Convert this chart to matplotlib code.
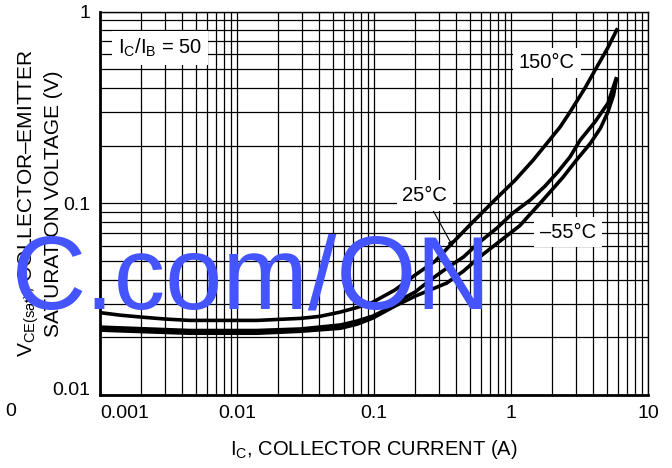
import matplotlib
matplotlib.use("Agg")
import matplotlib.pyplot as plt
import matplotlib.ticker as mticker
import matplotlib.transforms as mtransforms

FONT = "Liberation Sans"
plt.rcParams["font.family"] = [FONT, "DejaVu Sans"]
plt.rcParams["mathtext.fontset"] = "custom"
plt.rcParams["mathtext.rm"] = FONT
plt.rcParams["mathtext.it"] = FONT
plt.rcParams["mathtext.default"] = "regular"

# Collector current (A) and VCE(sat) (V)
ic_150 = [0.001, 0.0014, 0.002, 0.003, 0.0045, 0.014, 0.029, 0.040, 0.057, 0.075, 0.098,
          0.142, 0.2, 0.28, 0.36, 0.5, 0.76, 1.07, 1.45, 1.82, 2.28, 2.7, 3.47, 4.2, 5.1, 6.0]
vce_150 = [0.0269, 0.0261, 0.0255, 0.0249, 0.0245, 0.0245, 0.0251, 0.0257, 0.0271, 0.0286, 0.0305,
           0.0353, 0.0423, 0.050, 0.0605, 0.077, 0.104, 0.132, 0.168, 0.205, 0.250, 0.300, 0.400, 0.51, 0.65, 0.82]

ic_25 = [0.001, 0.0045, 0.014, 0.029, 0.057, 0.075, 0.098, 0.125, 0.155, 0.2, 0.256, 0.34,
         0.45, 0.59, 0.79, 1.03, 1.38, 1.77, 2.2, 2.7, 3.2, 4.1, 5.1, 5.9]
vce_25 = [0.0226, 0.0217, 0.0217, 0.0221, 0.0232, 0.0243, 0.0258, 0.0281, 0.0313, 0.0345, 0.0397, 0.0459,
          0.0525, 0.0628, 0.0743, 0.0889, 0.104, 0.123, 0.146, 0.175, 0.214, 0.266, 0.333, 0.456]

ic_m55 = [0.001, 0.0045, 0.014, 0.029, 0.057, 0.075, 0.098, 0.142, 0.2, 0.256, 0.34, 0.45,
          0.59, 0.83, 1.16, 1.71, 2.4, 3.0, 3.8, 4.5, 5.1, 5.6, 5.9]
vce_m55 = [0.0218, 0.021, 0.021, 0.0215, 0.0223, 0.0234, 0.0252, 0.0291, 0.0328, 0.0353, 0.0384, 0.0443,
           0.0525, 0.0635, 0.0765, 0.104, 0.137, 0.168, 0.206, 0.247, 0.300, 0.367, 0.451]

x_ticks = [0.001, 0.01, 0.1, 1, 10]
x_labels = ["0.001", "0.01", "0.1", "1", "10"]
y_ticks = [0.01, 0.1, 1]
y_labels = ["0.01", "0.1", "1"]

fig = plt.figure(figsize=(6.72, 4.68), dpi=100)
ax = fig.add_axes([0.1488, 0.156, 0.8155, 0.819])

for ic, vce in [(ic_150, vce_150), (ic_25, vce_25), (ic_m55, vce_m55)]:
    ax.plot(ic, vce, color="black", lw=2.6, solid_capstyle="butt",
            solid_joinstyle="round", zorder=3)

ax.set_xscale("log")
ax.set_yscale("log")
ax.set_xlim(0.001, 10)
ax.set_ylim(0.01, 1)

ax.set_xticks(x_ticks)
ax.set_xticklabels(x_labels)
ax.set_yticks(y_ticks)
ax.set_yticklabels(y_labels)
ax.xaxis.set_minor_formatter(mticker.NullFormatter())
ax.yaxis.set_minor_formatter(mticker.NullFormatter())
ax.tick_params(which="both", length=0, labelsize=14, colors="black")
ax.tick_params(axis="x", pad=7)
ax.tick_params(axis="y", pad=7)

# first x label sits to the right of its gridline in the original
shift = mtransforms.ScaledTranslation(25 / 100, 0, fig.dpi_scale_trans)
first = ax.get_xticklabels()[0]
first.set_transform(first.get_transform() + shift)
lift = mtransforms.ScaledTranslation(0, 6 / 100, fig.dpi_scale_trans)
bottom = ax.get_yticklabels()[0]
bottom.set_transform(bottom.get_transform() + lift)

ax.grid(True, which="both", color="black", lw=0.9, zorder=0)
ax.set_axisbelow(True)
for side in ["left", "bottom"]:
    ax.spines[side].set_linewidth(2.0)
for side in ["top", "right"]:
    ax.spines[side].set_linewidth(1.0)

ax.set_xlabel("I$_C$, COLLECTOR CURRENT (A)", fontsize=14.5, labelpad=12)
ax.set_ylabel("V$_{CE(sat)}$, COLLECTOR\u2013EMITTER\nSATURATION VOLTAGE (V)",
              fontsize=15, linespacing=1.2)
ax.yaxis.set_label_coords(-0.068, 0.5)

box = dict(facecolor="white", edgecolor="none", pad=4)
ax.text(0.00274, 0.646, "I$_C$/I$_B$ = 50", fontsize=14.5, ha="center", va="center", bbox=box, zorder=4)
ax.text(1.83, 0.54, "150\u00b0C", fontsize=14.5, ha="center", va="center", bbox=box, zorder=4)
ax.text(2.61, 0.0708, "\u201355\u00b0C", fontsize=14.5, ha="center", va="center", bbox=box, zorder=4)
ax.annotate("25\u00b0C", xy=(0.378, 0.0592), xytext=(0.235, 0.110), fontsize=14.5,
            ha="center", va="center", bbox=box, zorder=4,
            arrowprops=dict(arrowstyle="-|>", color="black", lw=0.8,
                            mutation_scale=8, shrinkA=0, shrinkB=0))

# stray leftover tick label at far left of the original
fig.text(5 / 672, 1 - 411 / 468, "0", fontsize=14, ha="left", va="center")

# watermark
fig.text(12 / 672, 1 - 308 / 468, "C.com/ON", fontsize=74, color="#4455ff",
         ha="left", va="baseline", zorder=10)

fig.savefig("out.png", dpi=100)
plt.close(fig)
